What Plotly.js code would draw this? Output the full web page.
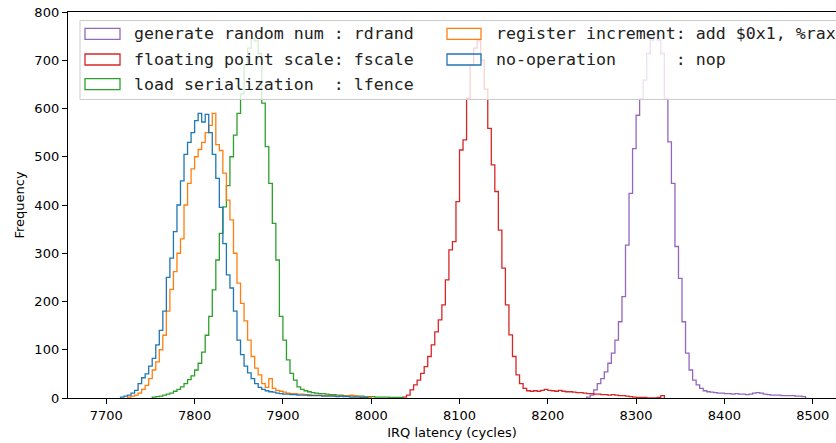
<!DOCTYPE html>
<html><head><meta charset="utf-8">
<script src="https://cdn.plot.ly/plotly-3.0.1.min.js"></script>
<style>html,body{margin:0;padding:0;background:#fff;overflow:hidden}</style>
</head><body><div id="chart" style="width:836px;height:443px"></div>
<script>
// ---- data (histogram counts per 4-cycle bin) ----
const binWidth = 4;
const labels = [
  'generate random num : rdrand',
  'floating point scale: fscale',
  'load serialization  : lfence',
  'register increment: add $0x1, %rax',
  'no-operation      : nop'
];
const xTicks = [7700, 7800, 7900, 8000, 8100, 8200, 8300, 8400, 8500];
const yTicks = [0, 100, 200, 300, 400, 500, 600, 700, 800];

const rdrandStart = 8244;
const rdrandCounts = [2,6,17,30,40,54,72,93,120,158,210,317,424,517,586,620,659,714,742,756,742,714,620,531,445,314,248,158,93,58,37,27,20,15,13,12,11,10,10,9,9,8,9,8,8,7,8,10,11,10,8,7,6,6,6,5,5,5,5,4,4,3];

const fscaleStart = 8036;
const fscaleCounts = [2,6,17,27,37,51,65,86,110,137,162,193,245,307,324,407,514,535,621,690,725,740,700,640,559,483,428,348,269,193,131,86,48,30,20,15,14,15,14,16,18,16,15,14,16,14,13,13,12,11,11,10,9,9,8,8,7,7,6,7,6,5,5,4,3,2,1,1,1,0,0,0,1,5];

const lfenceStart = 7752;
const lfenceCounts = [2,3,4,6,8,10,14,18,23,30,38,46,58,72,95,130,169,224,286,341,396,440,500,545,590,630,690,725,745,740,714,611,521,445,362,286,169,120,79,51,37,23,18,15,13,11,10,9,9,8,7,7,6,6,5,5,5,4,4,4,3,3,3,2,2,2,2,1,1,1,1];

const addStart = 7724;
const addCounts = [2,4,6,10,18,26,40,58,75,100,130,180,225,262,300,330,400,445,475,500,515,530,550,565,590,525,513,466,410,369,300,238,196,160,120,86,62,48,30,22,40,20,16,14,12,10,9,9,8,8,7,7,6,6,6,5,5,5,5,4,4,4,4,6,5,3,2,2,1];

const nopStart = 7716;
const nopCounts = [2,4,6,10,16,30,42,50,66,82,110,140,180,250,290,345,400,450,505,530,550,575,590,572,588,550,505,455,395,320,255,228,180,120,90,66,52,40,30,22,18,15,13,12,10,9,8,8,7,7,6,6,6,5,5,5,5,4,4,4,4,3,4,3,3,2,2,2,1,1];

// ---- drawing ----
const starts = [rdrandStart, fscaleStart, lfenceStart, addStart, nopStart];
const countsList = [rdrandCounts, fscaleCounts, lfenceCounts, addCounts, nopCounts];
const colors = ['#9467bd', '#d62728', '#2ca02c', '#ff7f0e', '#1f77b4'];

function stepXY(start, counts) {
  const x = [start], y = [0];
  counts.forEach((c, i) => { x.push(start + i * binWidth); y.push(c); });
  x.push(start + counts.length * binWidth); y.push(0);
  return {x, y};
}

const traces = starts.map((s, k) => {
  const d = stepXY(s, countsList[k]);
  return {
    type: 'scatter', mode: 'lines', x: d.x, y: d.y, name: labels[k],
    line: {shape: 'hv', color: colors[k], width: 1.3},
    showlegend: false, hoverinfo: 'skip'
  };
});

// plot-area geometry (px) used to place the hand-drawn legend
const W = 836, H = 443, L = 68, R = 0, T = 12, B = 45;
const pw = W - L - R, ph = H - T - B;
const px = v => (v - L) / pw;
const py = v => (H - B - v) / ph;

const shapes = [{
  type: 'rect', xref: 'paper', yref: 'paper', layer: 'above',
  x0: px(80), x1: px(860), y0: py(99.5), y1: py(20.5),
  line: {color: '#cccccc', width: 1}, fillcolor: 'rgba(255,255,255,0.8)'
}];
const annotations = [];
// legend layout: column-major, 3 rows then 2
const legendPos = [[0,0],[0,1],[0,2],[1,0],[1,1]];
const rowY = [33.8, 59.5, 84.2];
const swX = [[85, 120], [447, 481]];
const txX = [132, 494];
legendPos.forEach((p, k) => {
  const c = p[0], r = p[1];
  shapes.push({
    type: 'rect', xref: 'paper', yref: 'paper', layer: 'above',
    x0: px(swX[c][0]), x1: px(swX[c][1]), y0: py(rowY[r] + 5.5), y1: py(rowY[r] - 5.5),
    line: {color: colors[k], width: 1.3}, fillcolor: 'rgba(0,0,0,0)'
  });
  annotations.push({
    xref: 'paper', yref: 'paper', x: px(txX[c]), y: py(rowY[r]),
    xanchor: 'left', yanchor: 'middle', showarrow: false, text: labels[k],
    font: {family: 'DejaVu Sans Mono', size: 16.6, color: '#222'}
  });
});

const axisCommon = {
  showgrid: false, zeroline: false, showline: true, linecolor: '#000', linewidth: 1.2,
  ticks: 'outside', ticklen: 5, tickwidth: 1, tickcolor: '#000',
  tickfont: {family: 'DejaVu Sans', size: 13, color: '#000'}
};

const layout = {
  width: W, height: H,
  margin: {l: L, r: R, t: T, b: B, pad: 0},
  paper_bgcolor: '#fff', plot_bgcolor: '#fff',
  showlegend: false,
  font: {family: 'DejaVu Sans', color: '#000'},
  xaxis: Object.assign({}, axisCommon, {
    range: [7656.6, 8526.4], tickvals: xTicks, ticktext: xTicks.map(String), mirror: true,
    title: {text: 'IRQ latency (cycles)', font: {family: 'DejaVu Sans', size: 13, color: '#000'}, standoff: 6}
  }),
  yaxis: Object.assign({}, axisCommon, {
    range: [0, 800], tickvals: yTicks, ticktext: yTicks.map(String),
    title: {text: 'Frequency', font: {family: 'DejaVu Sans', size: 13, color: '#000'}, standoff: 6}
  }),
  shapes: shapes,
  annotations: annotations
};

Plotly.newPlot('chart', traces, layout, {displayModeBar: false, staticPlot: true});
</script>
</body></html>
